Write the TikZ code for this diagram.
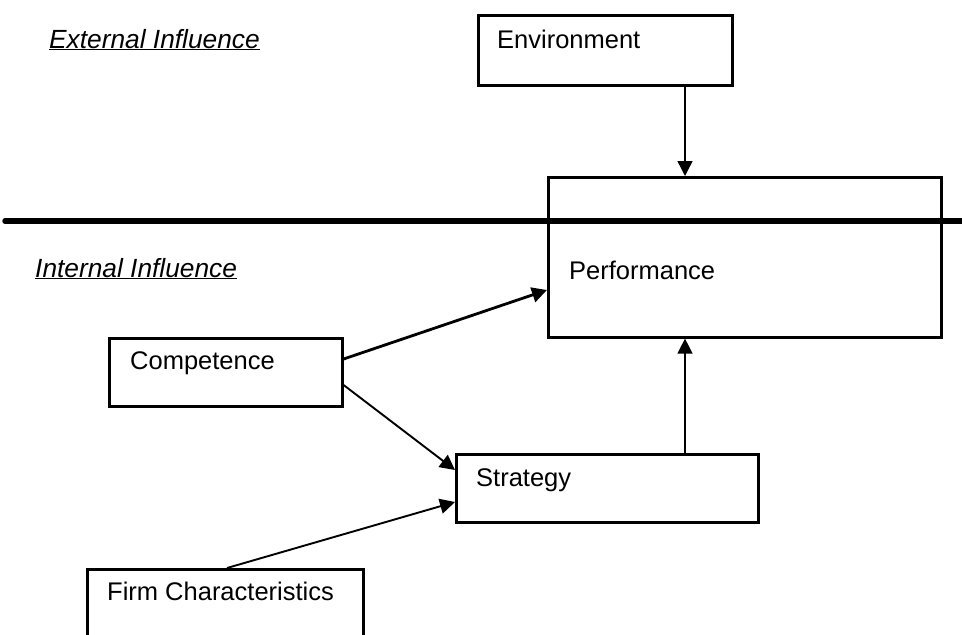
\documentclass[tikz,border=0pt]{standalone}
\usepackage{fontspec}
\setmainfont{Liberation Sans}
\usetikzlibrary{arrows.meta,calc}
\tikzset{
  box/.style={draw, line width=2.6pt, inner sep=0pt, anchor=north west},
  txt/.style={inner sep=0pt, anchor=base west, font=\fontsize{25.5}{30}\selectfont},
  head/.style={txt, font=\fontsize{26.3}{30}\selectfont\itshape},
  link/.style={line width=1.9pt, -{Triangle[length=15pt,width=15pt]}},
  divider/.style={line width=5.5pt, line cap=round}
}
\begin{document}
\begin{tikzpicture}[x=1pt,y=-1pt]
\useasboundingbox (0,0) rectangle (962,635);
\clip (0,0) rectangle (962,635);

% section headings
\node[head] (ext) at (49,48) {\underline{External Influence}};
\node[head] (int) at (35,277) {\underline{Internal Influence}};

% boxes
\node[box, minimum width=254pt, minimum height=70pt] (env) at (477,14) {};
\node[txt] (envt) at (497,48) {Environment};

\node[box, minimum width=393pt, minimum height=160pt] (perf) at (547,176) {};
\node[txt] (perft) at (569,279) {Performance};

\node[box, minimum width=233pt, minimum height=68pt] (comp) at (108,337) {};
\node[txt] (compt) at (130,369) {Competence};

\node[box, minimum width=302pt, minimum height=68pt] (strat) at (455,453) {};
\node[txt] (stratt) at (476,486) {Strategy};

\node[box, minimum width=276pt, minimum height=90pt] (firm) at (86,568) {};
\node[txt] (firmt) at (107,600) {Firm Characteristics};

% boundary between external and internal influence
\coordinate (divL) at (5,221);
\coordinate (divR) at (975,221);
\draw[divider] (divL) -- (divR);

% influences
\draw[link, line width=1.4pt] ($(env.south west)+(208,0)$) -- ($(perf.north west)+(138,0)$);
\draw[link, line width=2.8pt] ($(comp.north east)+(0,22)$) -- ($(perf.north west)+(0,114)$);
\draw[link] ($(comp.north east)+(0,48)$) -- ($(strat.north west)+(0,17)$);
\draw[link] ($(firm.north west)+(141,0)$) -- ($(strat.north west)+(0,49)$);
\draw[link, line width=1.4pt] ($(strat.north west)+(230,0)$) -- ($(perf.south west)+(138,0)$);
\end{tikzpicture}
\end{document}
